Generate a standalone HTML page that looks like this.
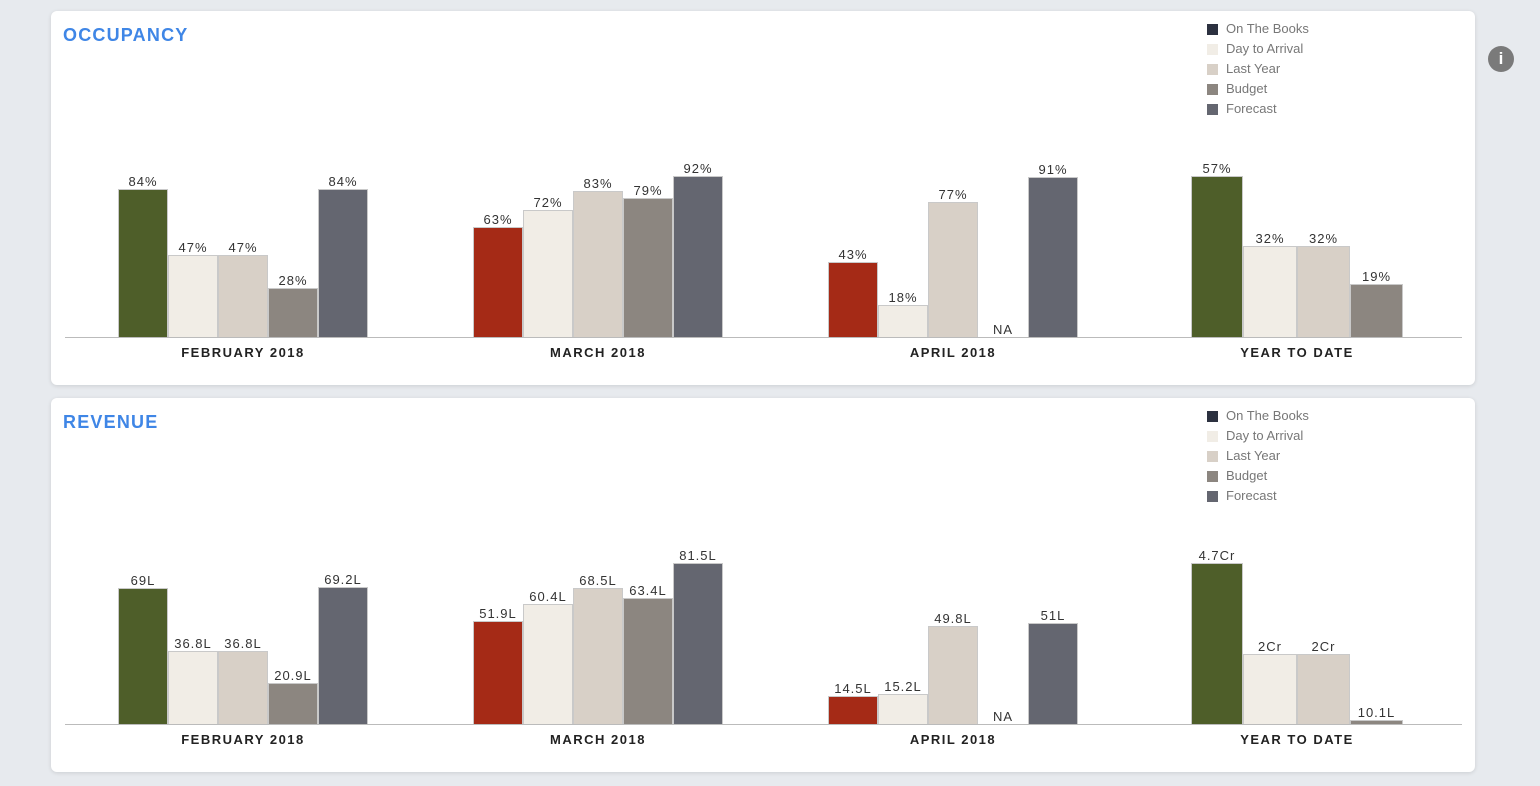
<!DOCTYPE html>
<html><head><meta charset="utf-8"><style>
body{margin:0;width:1540px;height:786px;background:#e7eaee;position:relative;overflow:hidden;font-family:"Liberation Sans",sans-serif}
.card{position:absolute;left:51px;width:1424px;height:374px;background:#fff;border-radius:6px;box-shadow:0 1px 4px rgba(0,0,0,.12)}
.t{position:absolute;font-weight:900;color:#3f86e6;font-size:18px;letter-spacing:1.2px}
.bar{position:absolute;box-sizing:border-box;border:1px solid #c9c9c9;border-bottom:none}
.lbl{position:absolute;width:80px;text-align:center;font-size:13px;color:#333;letter-spacing:1px}
.cat{position:absolute;width:200px;text-align:center;font-size:13px;font-weight:bold;color:#222;letter-spacing:1.5px}
.ax{position:absolute;left:65px;width:1397px;height:1px;background:#bbb}
.lg{position:absolute;font-size:13px;color:#777}
.lg i{position:absolute;left:-19px;top:3px;width:11px;height:11px}
</style></head><body>
<div class="card" style="top:11px"></div>
<div class="card" style="top:398px"></div>
<div class="t" style="left:63px;top:25px">OCCUPANCY</div>
<div class="t" style="left:63px;top:412px">REVENUE</div>
<div style="position:absolute;left:1488px;top:46px;width:26px;height:26px;border-radius:50%;background:#7a7a7a;color:#fff;font:bold 17px 'Liberation Sans',sans-serif;text-align:center;line-height:26px">i</div>
<div id="c"></div>
<script>
var C={g:'#4e5e29',r:'#a52a16',d:'#f1ede6',l:'#d8d0c7',b:'#8c8680',f:'#646670'};
var occ=[[118,168,'g',189,'84%'],[168,218,'d',255,'47%'],[218,268,'l',255,'47%'],[268,318,'b',288,'28%'],[318,368,'f',189,'84%'],
[473,523,'r',227,'63%'],[523,573,'d',210,'72%'],[573,623,'l',191,'83%'],[623,673,'b',198,'79%'],[673,723,'f',176,'92%'],
[828,878,'r',262,'43%'],[878,928,'d',305,'18%'],[928,978,'l',202,'77%'],[978,1028,'',337,'NA'],[1028,1078,'f',177,'91%'],
[1191,1243,'g',176,'57%'],[1243,1297,'d',246,'32%'],[1297,1350,'l',246,'32%'],[1350,1403,'b',284,'19%']];
var rev=[588,651,651,683,587,621,604,588,598,563,696,694,626,724,623,563,654,654,720];
var rl=['69L','36.8L','36.8L','20.9L','69.2L','51.9L','60.4L','68.5L','63.4L','81.5L','14.5L','15.2L','49.8L','NA','51L','4.7Cr','2Cr','2Cr','10.1L'];
var h='';
function draw(base,tops,labels){
 occ.forEach(function(o,i){var top=tops[i];
  if(o[2])h+='<div class="bar" style="left:'+o[0]+'px;width:'+(o[1]-o[0])+'px;top:'+top+'px;height:'+(base-top)+'px;background:'+C[o[2]]+'"></div>';
  h+='<div class="lbl" style="left:'+((o[0]+o[1])/2-40)+'px;top:'+(top-15)+'px">'+labels[i]+'</div>';});
 h+='<div class="ax" style="top:'+base+'px"></div>';
 [['FEBRUARY 2018',243],['MARCH 2018',598],['APRIL 2018',953],['YEAR TO DATE',1297]].forEach(function(c){h+='<div class="cat" style="left:'+(c[1]-100)+'px;top:'+(base+8)+'px">'+c[0]+'</div>';});
 var ln=[['On The Books','#2c3140'],['Day to Arrival','#f1ede6'],['Last Year','#d8d0c7'],['Budget','#8c8680'],['Forecast','#646670']];
 ln.forEach(function(l,i){h+='<div class="lg" style="left:1226px;top:'+(base-316+20*i)+'px"><i style="background:'+l[1]+'"></i>'+l[0]+'</div>';});
}
draw(337,occ.map(function(o){return o[3]}),occ.map(function(o){return o[4]}));
draw(724,rev,rl);
document.getElementById('c').innerHTML=h;
</script>
</body></html>
